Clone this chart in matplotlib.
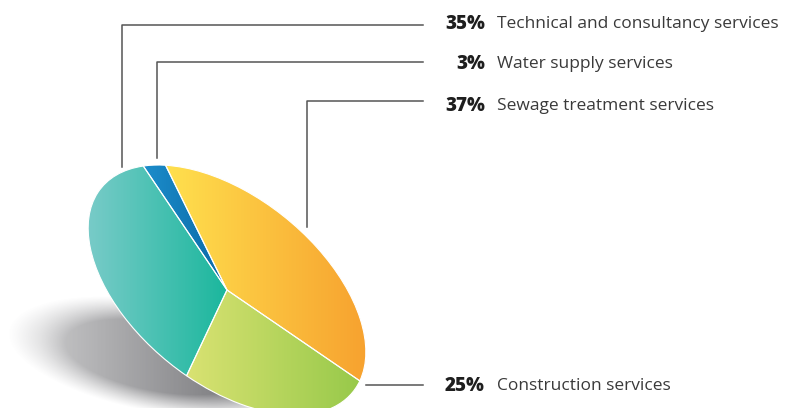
import numpy as np
import matplotlib
matplotlib.use('Agg')
import matplotlib.pyplot as plt
from matplotlib.transforms import Affine2D
from matplotlib.colors import LinearSegmentedColormap, to_rgb

# data, pie drawn counter-clockwise from the start angle
labels = ['Sewage treatment services', 'Water supply services',
          'Technical and consultancy services', 'Construction services']
shares = [37, 3, 35, 25]
pct_text = ['37%', '3%', '35%', '25%']

# gradient colours per slice (left -> right)
grad_cols = [('#FFE04E', '#F7A22F'),
             ('#1C8DCB', '#0A69A6'),
             ('#78CBC8', '#1BB79D'),
             ('#D9E272', '#97C94A')]

W, H = 785, 408
fig = plt.figure(figsize=(W / 100, H / 100), dpi=100)
ax = fig.add_axes([0, 0, 1, 1])

# tilted pie: unit circle squashed and rotated into an ellipse
cx, cy = 227, H - 290
aff = Affine2D().scale(162, 93).rotate_deg(-39).translate(cx, cy)

wedges, _ = ax.pie(shares, startangle=8, counterclock=True, radius=1,
                   center=(0, 0), wedgeprops=dict(lw=0.8, ec='white'))

# soft shadow under the pie
sx = np.linspace(0, 330, 330)
sy = np.linspace(0, 140, 140)
X, Y = np.meshgrid(sx, sy)
py = H - Y
ang = np.deg2rad(10)
u = (X - 160) * np.cos(ang) + (py - 357) * np.sin(ang)
v = -(X - 160) * np.sin(ang) + (py - 357) * np.cos(ang)
r = np.sqrt((u / 155) ** 2 + (v / 56) ** 2)
alpha = np.clip((1 - r) / 0.38, 0, 1) ** 1.2
alpha *= np.clip(0.4 + 0.6 * (X - 40) / 210, 0.4, 1)
shadow = np.zeros((len(sy), len(sx), 4))
shadow[..., :3] = to_rgb('#626266')
shadow[..., 3] = alpha * 0.88
ax.imshow(shadow, extent=(0, 330, 0, 140), origin='lower',
          interpolation='bilinear', zorder=1)

for w, (c0, c1) in zip(wedges, grad_cols):
    w.set_transform(aff + ax.transData)
    w.set_facecolor('none')
    w.set_zorder(3)
    ext = w.get_path().transformed(aff).get_extents()
    cmap = LinearSegmentedColormap.from_list('g', [c0, c1])
    g = np.tile(np.linspace(0, 1, 200), (20, 1))
    im = ax.imshow(g, cmap=cmap, extent=(ext.x0, ext.x1, ext.y0, ext.y1),
                   origin='lower', interpolation='bilinear', zorder=2,
                   aspect='auto')
    im.set_clip_path(w)

# leader lines and labels
line_col = '#555555'
leaders = {
    'Technical and consultancy services': ([122, 122, 423], [167, 25, 25], 24),
    'Water supply services': ([157, 157, 423], [158, 62, 62], 64),
    'Sewage treatment services': ([307, 307, 423], [227, 101, 101], 106),
    'Construction services': ([366, 423], [385, 385], 386),
}
for lab, pct in zip(labels, pct_text):
    xs, ys, ty = leaders[lab]
    ax.plot(xs, [H - y for y in ys], color=line_col, lw=1.1, zorder=4)
    ax.text(485, H - ty, pct, ha='right', va='center', fontsize=13.5,
            fontweight=800, color='#1e1e1e', family='Open Sans')
    ax.text(497, H - ty, lab, ha='left', va='center', fontsize=12.5,
            color='#3a3a3a', family='Open Sans')

ax.set_xlim(0, W)
ax.set_ylim(0, H)
ax.set_aspect('auto')
ax.axis('off')
fig.savefig('out.png', dpi=100, facecolor='white')
